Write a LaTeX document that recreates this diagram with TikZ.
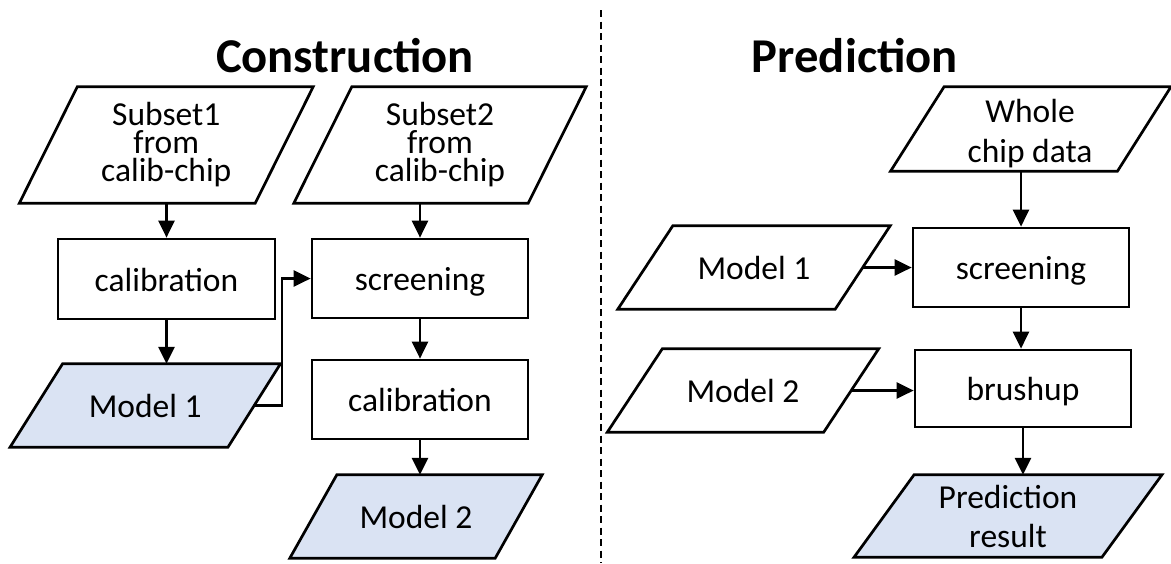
\documentclass[tikz,border=0pt]{standalone}
\usepackage{fontspec}
\setmainfont{Carlito}
\usetikzlibrary{arrows.meta,backgrounds,calc}
\definecolor{parafill}{HTML}{DAE3F3}
\newcommand\drawpara[3]{%
  \path[draw=black, fill=#3, line width=2.7pt, line join=miter]
    ([xshift=#2]#1.north west) -- ([xshift=#2]#1.north east) --
    ([xshift=-#2]#1.south east) -- ([xshift=-#2]#1.south west) -- cycle;}
\begin{document}
\begin{tikzpicture}[x=1pt,y=-1pt,
  txt/.style={font=\fontsize{33.5pt}{28pt}\selectfont, align=center, inner sep=0pt},
  oneline/.style={text height=24pt, text depth=0pt},
  proc/.style={txt, oneline, draw, fill=white, line width=2.7pt, minimum width=216pt, minimum height=79pt},
  io/.style n args={2}{txt, minimum width=#1, minimum height=#2},
  arr/.style={line width=2.7pt, -{Triangle[length=17pt,width=16pt]}},
  titletext/.style={font=\fontsize{48.6pt}{58pt}\selectfont\bfseries, inner sep=0pt},
  divider/.style={line width=2.6pt, dash pattern=on 7pt off 4.5pt}]
\useasboundingbox (0,0) rectangle (1171,563);

\node[titletext, anchor=base] (tcon) at (345,72) {Construction};
\node[titletext, anchor=base] (tpre) at (855,72) {Prediction};
\coordinate (dtop) at (601,10);
\coordinate (dbot) at (601,563);
\draw[divider] (dtop) -- (dbot);

% Construction
\node[io={235.5pt}{116pt}] (s1) at (166.25,145) {Subset1\\from\\calib-chip};
\node[proc, minimum width=217pt, minimum height=80pt] (cal1) at (166.5,279) {calibration};
\node[io={217.5pt}{83pt}, oneline] (m1) at (145.25,405.5) {Model 1};
\node[io={234pt}{116pt}] (s2) at (440,145) {Subset2\\from\\calib-chip};
\node[proc] (scr1) at (420,278.5) {screening};
\node[proc] (cal2) at (420,399.5) {calibration};
\node[io={205pt}{83pt}, oneline] (m2) at (416,516.5) {Model 2};

% Prediction
\node[io={226.5pt}{84pt}] (wcd) at (1030.75,129) {};
\node[txt, font=\fontsize{33.5pt}{40pt}\selectfont] (wcdt) at (1030,133.6) {Whole\\chip data};
\node[io={217pt}{83pt}, oneline] (pm1) at (754,267.5) {Model 1};
\node[proc] (scr2) at (1021,267.5) {screening};
\node[io={216pt}{83pt}, oneline] (pm2) at (743,390.5) {Model 2};
\node[proc, minimum height=77pt] (bru) at (1023,388.5) {brushup};
\node[io={247.5pt}{82pt}, font=\fontsize{33.5pt}{39pt}\selectfont] (pr) at (1008,516) {Prediction\\result};

\begin{scope}[on background layer]
  \fill[white] (0,0) rectangle (1171,563);
  \drawpara{s1}{29pt}{white}
  \drawpara{m1}{26.25pt}{parafill}
  \drawpara{s2}{29pt}{white}
  \drawpara{m2}{23.5pt}{parafill}
  \drawpara{wcd}{26.75pt}{white}
  \drawpara{pm1}{27.5pt}{white}
  \drawpara{pm2}{27.5pt}{white}
  \drawpara{pr}{30pt}{parafill}
\end{scope}

% connectors
\draw[arr] (s1.south -| cal1.north) -- (cal1.north);
\draw[arr] (cal1.south) -- (cal1.south |- m1.north);
\coordinate (elbow) at (282,0);
\draw[arr] (m1.east) -- (m1.east -| elbow) |- (scr1.west);
\draw[arr] (s2.south -| scr1.north) -- (scr1.north);
\draw[arr] (scr1.south) -- (cal2.north);
\draw[arr] (cal2.south) -- (cal2.south |- m2.north);

\draw[arr] (wcd.south -| scr2.north) -- (scr2.north);
\draw[arr] (pm1.east) -- (scr2.west);
\draw[arr] (scr2.south) -- (scr2.south |- bru.north);
\draw[arr] (pm2.east) -- (pm2.east -| bru.west);
\draw[arr] (bru.south) -- (bru.south |- pr.north);
\end{tikzpicture}
\end{document}
